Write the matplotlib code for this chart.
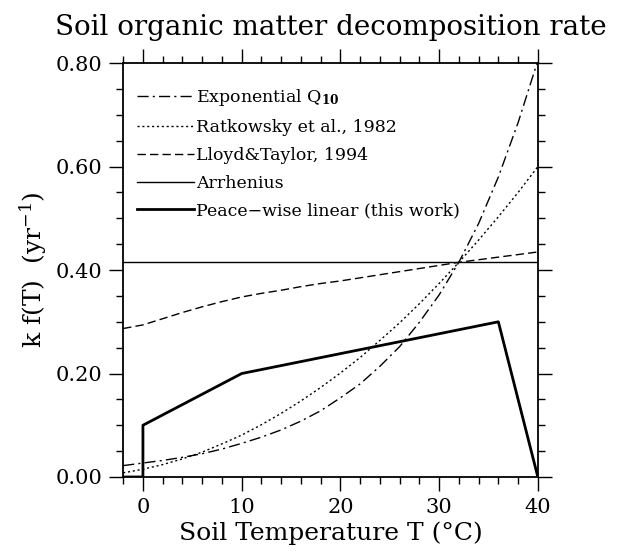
import matplotlib
matplotlib.use("Agg")
import matplotlib.pyplot as plt
from matplotlib.ticker import MultipleLocator, FormatStrFormatter

plt.rcParams['font.family'] = ['DejaVu Serif']
plt.rcParams['mathtext.fontset'] = 'dejavuserif'

#<====== Data ======>
temp = [-2, 0, 2, 4, 6, 8, 10, 12, 14, 16, 18, 20, 22, 24, 26, 28, 30, 32, 34, 36, 38, 40]

q10 = [0.022, 0.027, 0.032, 0.038, 0.045, 0.054, 0.065, 0.077, 0.091, 0.108,
       0.128, 0.153, 0.180, 0.214, 0.252, 0.299, 0.352, 0.415, 0.490, 0.580,
       0.685, 0.805]
ratkowsky = [0.008, 0.015, 0.024, 0.035, 0.048, 0.064, 0.081, 0.101, 0.123, 0.147,
             0.173, 0.201, 0.231, 0.264, 0.298, 0.335, 0.374, 0.415, 0.458, 0.503,
             0.550, 0.600]
lloyd = [0.287, 0.294, 0.306, 0.318, 0.329, 0.339, 0.348, 0.355, 0.361, 0.368,
         0.374, 0.379, 0.385, 0.391, 0.397, 0.403, 0.409, 0.415, 0.420, 0.425,
         0.430, 0.435]
arrhenius_T = [-2, 40]
arrhenius = [0.416, 0.416]
pw_T = [-2, 0, 0, 10, 36, 40]
pw = [0.0, 0.0, 0.10, 0.20, 0.30, 0.0]

labels = ['Exponential Q$_{\\mathbf{10}}$', 'Ratkowsky et al., 1982',
          'Lloyd&Taylor, 1994', 'Arrhenius', 'Peace\u2212wise linear (this work)']

#<====== Figure ======>
fig = plt.figure(figsize=(6.35, 5.54), dpi=100)
ax = fig.add_axes([0.194, 0.139, 0.653, 0.747])

ax.plot(temp, q10, color='k', lw=1, dashes=(8, 3, 1.5, 3), label=labels[0])
ax.plot(temp, ratkowsky, color='k', lw=1, dashes=(1.5, 2), label=labels[1])
ax.plot(temp, lloyd, color='k', lw=1, dashes=(6, 3), label=labels[2])
ax.plot(arrhenius_T, arrhenius, color='k', lw=1, label=labels[3])
ax.plot(pw_T, pw, color='k', lw=2, label=labels[4])

ax.set_xlim(-2, 40)
ax.set_ylim(0, 0.8)
ax.xaxis.set_major_locator(MultipleLocator(10))
ax.xaxis.set_minor_locator(MultipleLocator(2))
ax.yaxis.set_major_locator(MultipleLocator(0.2))
ax.yaxis.set_minor_locator(MultipleLocator(0.05))
ax.yaxis.set_major_formatter(FormatStrFormatter('%.2f'))
ax.tick_params(which='both', direction='out', top=True, right=True,
               labeltop=False, labelright=False, width=1)
ax.tick_params(which='major', length=10, labelsize=15, pad=5)
ax.tick_params(which='minor', length=5)
for s in ax.spines.values():
    s.set_linewidth(1.3)

ax.set_xlabel('Soil Temperature T (\u00b0C)', fontsize=18, labelpad=3)
ax.set_ylabel('k f(T)  (yr$^{-1}$)', fontsize=18, labelpad=5)
ax.set_title('Soil organic matter decomposition rate', fontsize=20, pad=20)

ax.legend(loc='upper left', frameon=False, fontsize=12.5, handlelength=3.3,
          handletextpad=0.1, labelspacing=0.62, borderaxespad=0.4,
          bbox_to_anchor=(0.0, 0.975))

fig.savefig('out.png', dpi=100)
